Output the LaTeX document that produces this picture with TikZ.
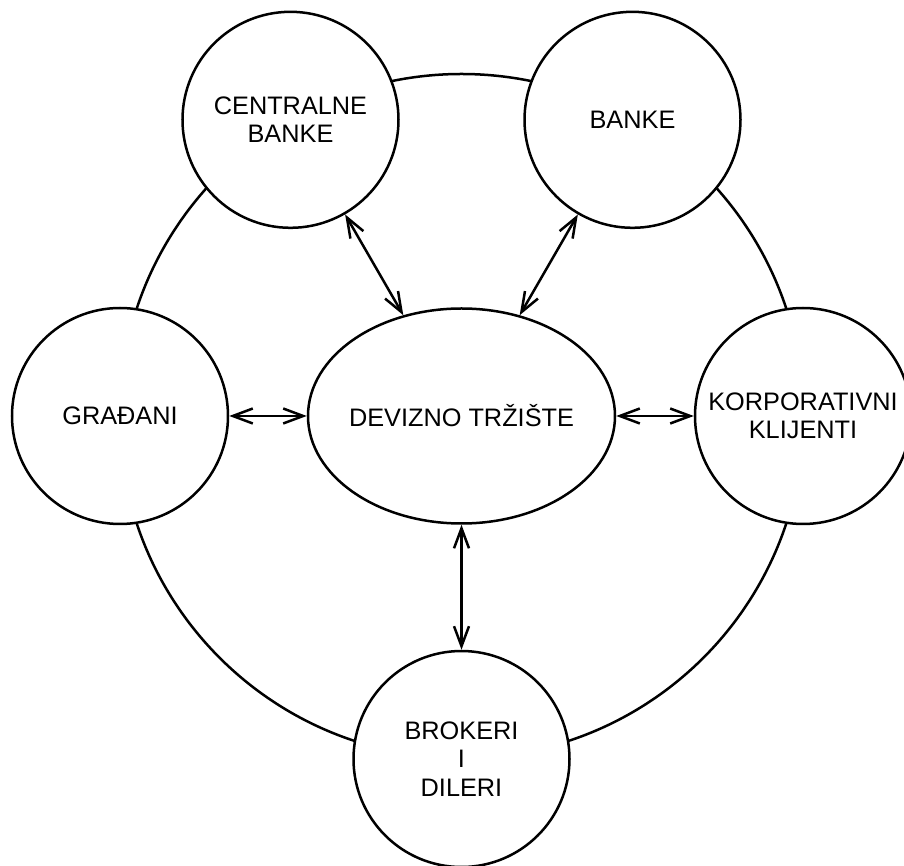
\documentclass[tikz,border=0pt]{standalone}
\usepackage{fontspec}
\setmainfont{Liberation Sans}
\usetikzlibrary{shapes.geometric, arrows.meta}

\begin{document}
\begin{tikzpicture}[line width=0.05cm, font=\fontsize{14.4}{16.1}\selectfont,
    akter/.style={draw, circle, fill=white, minimum size=4.32cm, inner sep=0pt, align=center},
    dvosmjer/.style={{Straight Barb[length=0.4cm,width=0.3cm]}-{Straight Barb[length=0.4cm,width=0.3cm]}}]
    \useasboundingbox (-9.23,-8.98) rectangle (8.85,8.32);
    \draw (0,0) circle (6.84);
    \node[draw, ellipse, fill=white, minimum width=6.14cm, minimum height=4.3cm, inner sep=0pt,
          label={center:DEVIZNO TRŽIŠTE}] (trziste) at (0,0) {};
    \node[akter] (centralne) at (120:6.84) {CENTRALNE\\BANKE};
    \node[akter] (banke) at (60:6.84) {BANKE};
    \node[akter] (gradjani) at (180:6.83) {GRAĐANI};
    \node[akter] (korporativni) at (0:6.83) {KORPORATIVNI\\KLIJENTI};
    \node[akter] (brokeri) at (270:6.86) {BROKERI\\I\\DILERI};
    \draw[dvosmjer] (centralne) -- (trziste);
    \draw[dvosmjer] (banke) -- (trziste);
    \draw[dvosmjer] (gradjani) -- (trziste);
    \draw[dvosmjer] (trziste) -- (korporativni);
    \draw[dvosmjer] (trziste) -- (brokeri);
\end{tikzpicture}
\end{document}
